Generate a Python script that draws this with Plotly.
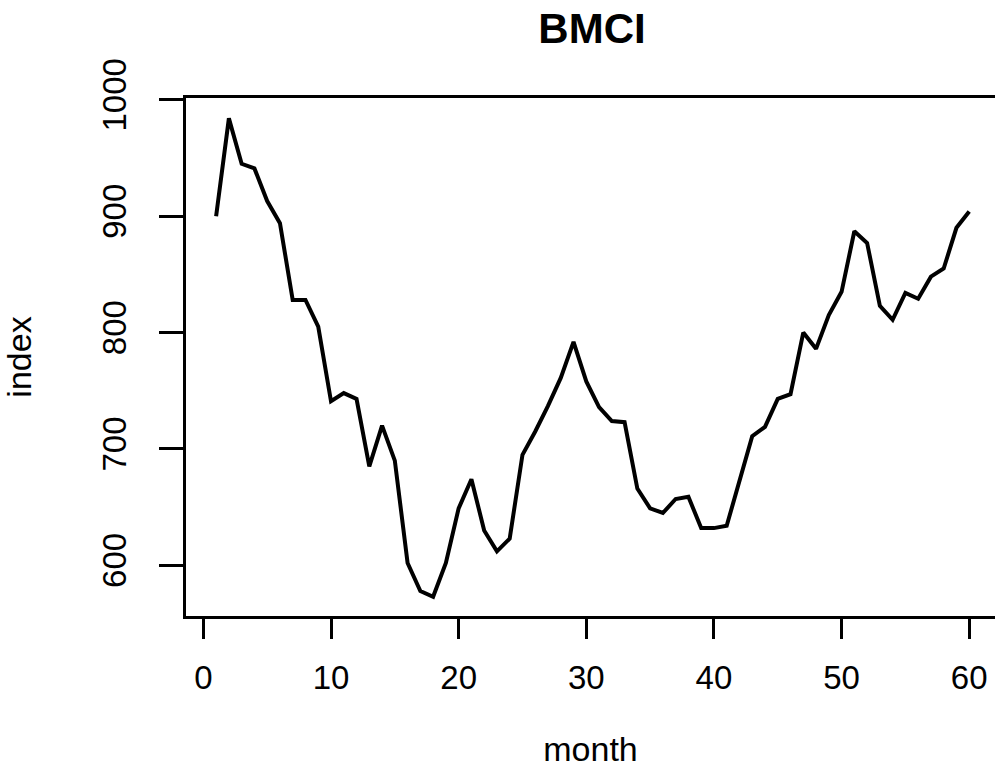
import plotly.graph_objects as go

months = list(range(1, 61))
index_values = [
    900, 984, 945, 941, 913, 894, 828, 828, 805, 741,
    748, 743, 685, 720, 690, 602, 578, 573, 602, 649,
    674, 630, 612, 623, 695, 715, 737, 761, 792, 758,
    736, 724, 723, 666, 649, 645, 657, 659, 632, 632,
    634, 674, 711, 719, 743, 747, 800, 786, 815, 835,
    887, 877, 823, 811, 834, 829, 848, 855, 890, 904,
]
x_ticks = [0, 10, 20, 30, 40, 50, 60]
y_ticks = [600, 700, 800, 900, 1000]

FONT = "Liberation Sans, Arial, sans-serif"

fig = go.Figure()
fig.add_trace(go.Scatter(
    x=months, y=index_values, mode="lines",
    line=dict(color="black", width=4),
    showlegend=False, hoverinfo="skip",
))

fig.update_layout(
    width=995, height=768,
    margin=dict(l=186, r=0, t=98, b=152),
    paper_bgcolor="white", plot_bgcolor="white",
    font=dict(family=FONT, color="black", size=33),
    title=dict(text="<b>BMCI</b>", x=592 / 995, xanchor="center",
               y=1 - 28 / 768, yanchor="middle",
               font=dict(family=FONT, size=42, color="black")),
)

fig.update_xaxes(
    range=[-1.36, 62.02], tickvals=x_ticks, ticktext=[str(v) for v in x_ticks],
    showgrid=False, zeroline=False,
    showline=True, linecolor="black", linewidth=2.5, mirror=True,
    ticks="outside", ticklen=20, tickwidth=2.5, tickcolor="black",
    tickfont=dict(size=33), ticklabelstandoff=11,
    title=dict(text="month", font=dict(size=34), standoff=44),
)
fig.update_yaxes(
    range=[556.5, 1001.5], tickvals=y_ticks, ticktext=[str(v) for v in y_ticks],
    showgrid=False, zeroline=False,
    showline=True, linecolor="black", linewidth=2.5, mirror=False,
    ticks="outside", ticklen=24, tickwidth=2.5, tickcolor="black",
    tickangle=-90, tickfont=dict(size=33), ticklabelstandoff=20,
    title=dict(text="index", font=dict(size=34), standoff=57),
)

fig.write_html("out.html")
